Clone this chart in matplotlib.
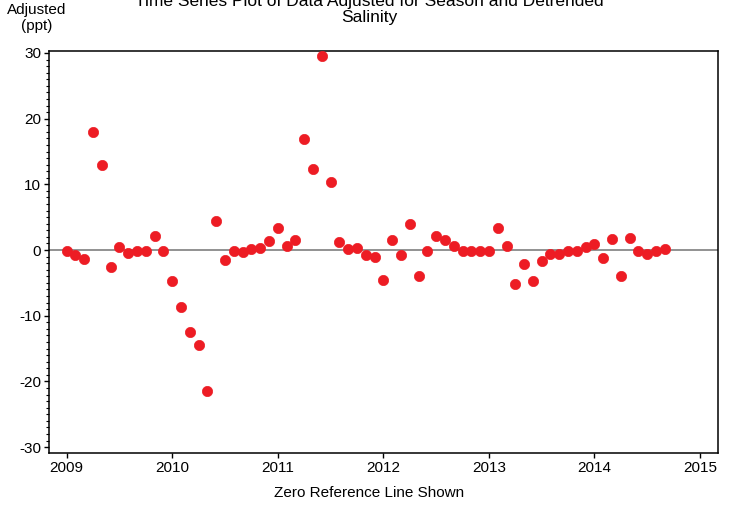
import matplotlib
matplotlib.use("Agg")
import matplotlib.pyplot as plt
from matplotlib.ticker import MultipleLocator

plt.rcParams['font.family'] = ['Liberation Sans', 'DejaVu Sans']

# Monthly series, Jan 2009 .. Sep 2014
start_year = 2009
values = [
    # 2009
    -0.1, -0.8, -1.4, 17.9, 13.0, -2.6, 0.4, -0.4, -0.1, -0.1, 2.2, -0.1,
    # 2010
    -4.7, -8.7, -12.5, -14.5, -21.5, 4.4, -1.5, -0.1, -0.3, 0.2, 0.3, 1.4,
    # 2011
    3.4, 0.6, 1.6, 16.9, 12.3, 29.5, 10.3, 1.2, 0.1, 0.3, -0.8, -1.1,
    # 2012
    -4.6, 1.6, -0.8, 3.9, -4.0, -0.2, 2.2, 1.6, 0.6, -0.1, -0.1, -0.1,
    # 2013
    -0.1, 3.4, 0.6, -5.1, -2.2, -4.7, -1.7, -0.6, -0.6, -0.2, -0.2, 0.4,
    # 2014
    0.9, -1.2, 1.7, -4.0, 1.9, -0.1, -0.6, -0.1, 0.1,
]
times = [start_year + i / 12.0 for i in range(len(values))]

x_ticks = [2009, 2010, 2011, 2012, 2013, 2014, 2015]
y_ticks = [-30, -20, -10, 0, 10, 20, 30]

W, H = 738, 507
fig = plt.figure(figsize=(W / 100, H / 100), dpi=100)
left, right, top, bottom = 49, 718, 51, 453
ax = fig.add_axes([left / W, 1 - bottom / H, (right - left) / W, (bottom - top) / H])

ax.axhline(0, color='#7f7f7f', lw=1.2, zorder=1)
ax.plot(times, values, linestyle='none', marker='o', markersize=7.4,
        markerfacecolor='#ED1C24', markeredgecolor='#ED1C24', markeredgewidth=0.5, zorder=3)

ax.set_xlim(2008.833, 2015.17)
ax.set_ylim(-30.9, 30.3)
ax.set_xticks(x_ticks)
ax.set_xticklabels([str(t) for t in x_ticks])
ax.set_yticks(y_ticks)
ax.set_yticklabels([str(t) for t in y_ticks])
ax.yaxis.set_minor_locator(MultipleLocator(1))

for s in ax.spines.values():
    s.set_linewidth(1.1)
    s.set_color('black')
ax.tick_params(axis='both', which='major', direction='out', length=3.5, width=1.0,
               labelsize=11, colors='black', pad=2)
ax.tick_params(axis='y', which='minor', direction='out', length=2, width=0.8)

fig.text(0.5, 1 - 9.5 / H, 'Time Series Plot of Data Adjusted for Season and Detrended\nSalinity',
         ha='center', va='center', multialignment='center', fontsize=12.5, linespacing=1.15)
fig.text(37 / W, 1 - 18 / H, 'Adjusted\n(ppt)', ha='center', va='center',
         multialignment='center', fontsize=11, linespacing=1.15)
fig.text(0.5, 1 - 493 / H, 'Zero Reference Line Shown', ha='center', va='center', fontsize=11)

fig.savefig('out.png', dpi=100)
